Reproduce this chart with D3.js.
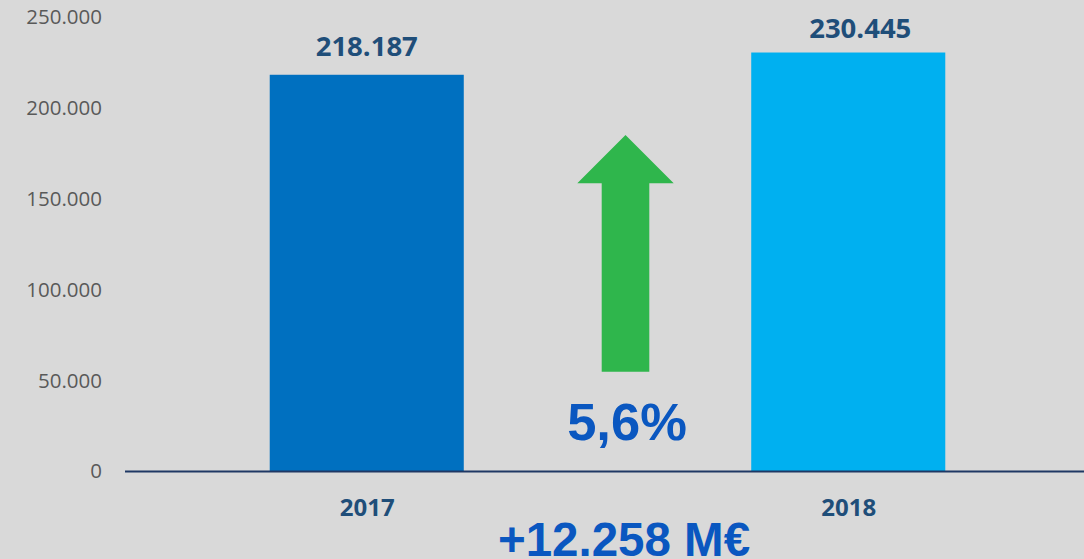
<!DOCTYPE html>
<html>
<head>
<meta charset="utf-8">
<script src="https://cdn.jsdelivr.net/npm/d3@7/dist/d3.min.js"></script>
<style>
  html, body { margin: 0; padding: 0; background: #d9d9d9; }
  svg { display: block; }
</style>
</head>
<body>
<div id="chart"></div>
<script>
const categories = ["2017", "2018"];
const values = [218187, 230445];
const tickValues = [0, 50000, 100000, 150000, 200000, 250000];
const changePct = "5,6%";
const changeAbs = "+12.258 M€";

const W = 1084, H = 559;
const svg = d3.select("#chart").append("svg").attr("width", W).attr("height", H);
svg.append("rect").attr("width", W).attr("height", H).attr("fill", "#d9d9d9");

const loc = d3.formatLocale({ decimal: ",", thousands: ".", grouping: [3], currency: ["", "€"] });
const fmt = loc.format(",");

const y = d3.scaleLinear().domain([0, 250000]).range([471, 17]);
const x = d3.scalePoint().domain(categories).range([126, 1089]).padding(0.5);
const barW = x.step() * 0.403;
const colors = ["#0070c0", "#00b0f0"];

// y axis labels
const yAxis = d3.axisLeft(y).tickValues(tickValues).tickFormat(d => d === 0 ? "0" : fmt(d)).tickSize(0).tickPadding(0);
const gy = svg.append("g").attr("transform", "translate(102,0)").call(yAxis);
gy.select(".domain").remove();
gy.selectAll("text").attr("font-family", "'Open Sans', sans-serif").attr("font-size", 20.5).attr("fill", "#595959").attr("dy", "0.34em");

// bars
svg.selectAll("rect.bar").data(values).enter().append("rect")
  .attr("class", "bar")
  .attr("x", (d, i) => x(categories[i]) - barW / 2)
  .attr("width", barW)
  .attr("y", d => y(d))
  .attr("height", d => y(0) - y(d))
  .attr("fill", (d, i) => colors[i]);

// x axis
const xAxis = d3.axisBottom(x).tickSize(0).tickPadding(0);
const gx = svg.append("g").attr("transform", `translate(0,${y(0)})`).call(xAxis);
gx.select(".domain").remove();
svg.append("line").attr("x1", 125).attr("x2", W).attr("y1", y(0) + 0.5).attr("y2", y(0) + 0.5)
  .attr("stroke", "#1f3864").attr("stroke-width", 2);
gx.selectAll("text").attr("font-family", "'Open Sans', sans-serif").attr("font-weight", "bold")
  .attr("font-size", 24).attr("fill", "#1f4e79").attr("y", 45).attr("dy", 0);

// value labels
const labelDx = [0, 12], labelDy = [-19, -15];
svg.selectAll("text.val").data(values).enter().append("text")
  .attr("class", "val")
  .attr("x", (d, i) => x(categories[i]) + labelDx[i])
  .attr("y", (d, i) => y(d) + labelDy[i])
  .attr("text-anchor", "middle")
  .attr("font-family", "'Open Sans', sans-serif").attr("font-weight", "bold")
  .attr("font-size", 27.5).attr("fill", "#1f4e79")
  .text(d => fmt(d));

// green arrow annotation
const ax = 625.5;
const arrow = d3.path();
arrow.moveTo(ax, 135);
arrow.lineTo(673.7, 183.3);
arrow.lineTo(649.3, 183.3);
arrow.lineTo(649.3, 371.7);
arrow.lineTo(601.7, 371.7);
arrow.lineTo(601.7, 183.3);
arrow.lineTo(577.3, 183.3);
arrow.closePath();
svg.append("path").attr("d", arrow.toString()).attr("fill", "#2fb64c");

svg.append("text").attr("x", 627).attr("y", 440).attr("text-anchor", "middle")
  .attr("font-family", "'Liberation Sans', Arial, sans-serif").attr("font-weight", "bold")
  .attr("font-size", 52.5).attr("fill", "#0a57c0").text(changePct);

svg.append("text").attr("x", 624).attr("y", 556).attr("text-anchor", "middle")
  .attr("font-family", "'Liberation Sans', Arial, sans-serif").attr("font-weight", "bold")
  .attr("font-size", 47.5).attr("fill", "#0a57c0").text(changeAbs);
</script>
</body>
</html>
